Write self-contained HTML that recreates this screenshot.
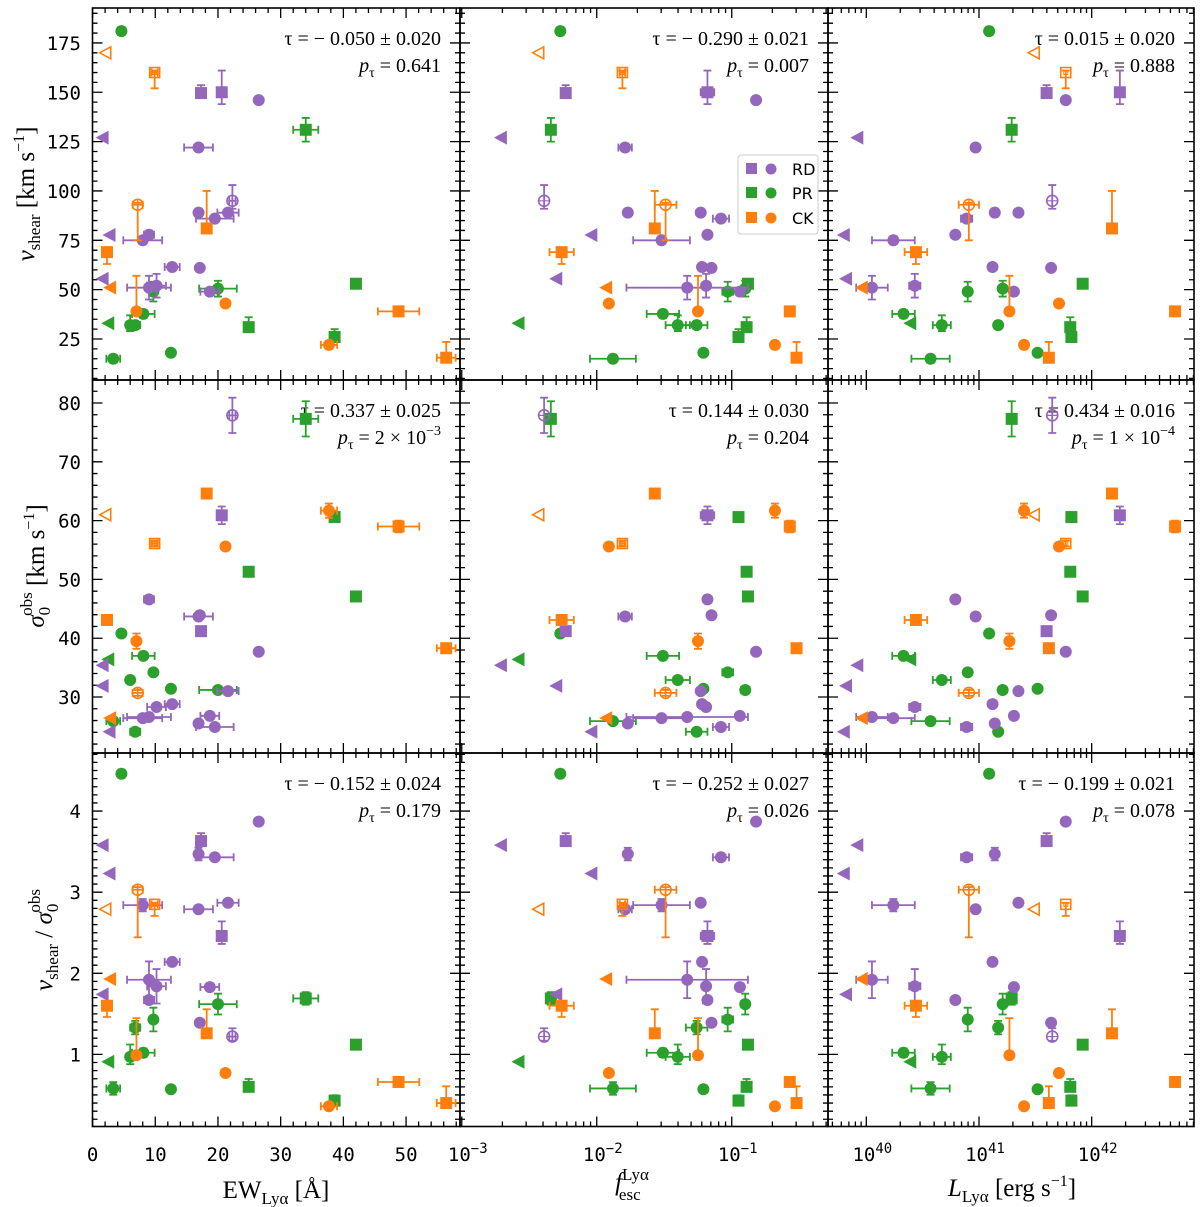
<!DOCTYPE html>
<html><head><meta charset="utf-8"><style>
html,body{margin:0;padding:0;background:#fff;}
svg{display:block;}
.tl{font-family:"DejaVu Sans Mono","Liberation Mono",monospace;font-size:19px;fill:#000;}
.mt{font-family:"Liberation Serif","DejaVu Serif",serif;fill:#000;}
.lg{font-family:"DejaVu Sans","Liberation Sans",sans-serif;font-size:16px;fill:#000;}
</style></head><body>
<svg id="fig" width="1200" height="1207" viewBox="0 0 1200 1207" xmlns="http://www.w3.org/2000/svg">
<g id="axes"></g>
<g id="marks"></g>
<g id="labels">
  <text class="mt" x="276" y="1198" text-anchor="middle" font-size="25">EW<tspan font-size="17" dy="6">Lyα</tspan><tspan dy="-6"> [Å]</tspan></text>
  <text class="mt" x="632" y="1190" text-anchor="middle" font-size="25"><tspan font-style="italic">f</tspan><tspan font-size="17" dy="-10">Lyα</tspan><tspan font-size="17" dx="-30" dy="20">esc</tspan></text>
  <text class="mt" x="1012" y="1196" text-anchor="middle" font-size="25"><tspan font-style="italic">L</tspan><tspan font-size="17" dy="6">Lyα</tspan><tspan dy="-6"> [erg s</tspan><tspan font-size="16" dy="-10">−1</tspan><tspan dy="10">]</tspan></text>
  <text class="mt" transform="translate(34,194) rotate(-90)" text-anchor="middle" font-size="25"><tspan font-style="italic">v</tspan><tspan font-size="17" dy="6">shear</tspan><tspan dy="-6"> [km s</tspan><tspan font-size="16" dy="-10">−1</tspan><tspan dy="10">]</tspan></text>
  <text class="mt" transform="translate(44,566) rotate(-90)" text-anchor="middle" font-size="25"><tspan font-style="italic">σ</tspan><tspan font-size="17" dy="6">0</tspan><tspan font-size="17" dx="-9" dy="-18">obs</tspan><tspan dy="12"> [km s</tspan><tspan font-size="16" dy="-10">−1</tspan><tspan dy="10">]</tspan></text>
  <text class="mt" transform="translate(52,940) rotate(-90)" text-anchor="middle" font-size="25"><tspan font-style="italic">v</tspan><tspan font-size="17" dy="6">shear</tspan><tspan dy="-6"> / </tspan><tspan font-style="italic">σ</tspan><tspan font-size="17" dy="6">0</tspan><tspan font-size="17" dx="-9" dy="-18">obs</tspan></text>
</g>
<g id="legend">
  <rect x="738" y="155" width="80" height="79" rx="3" fill="#fff" fill-opacity="0.85" stroke="#ccc" stroke-width="1"/>
  <g><rect x="746" y="163" width="11" height="11" fill="#9467bd"/><circle cx="771" cy="169" r="5.5" fill="#9467bd"/><text class="lg" x="792" y="175">RD</text></g>
  <g><rect x="746" y="187" width="11" height="11" fill="#2ca02c"/><circle cx="771" cy="193" r="5.5" fill="#2ca02c"/><text class="lg" x="792" y="199">PR</text></g>
  <g><rect x="746" y="212" width="11" height="11" fill="#ff7f0e"/><circle cx="771" cy="218" r="5.5" fill="#ff7f0e"/><text class="lg" x="792" y="224">CK</text></g>
</g>
</svg>
<script>
// ---- data (one entry per galaxy) ----
const groups = ["PR","PR","PR","PR","PR","PR","PR","PR","PR","PR","PR","PR","PR",
 "RD","RD","RD","RD","RD","RD","RD","RD","RD","RD","RD","RD","RD","RD","RD","RD","RD","RD",
 "CK","CK","CK","CK","CK","CK","CK","CK","CK","CK","CK"];
const shapes = ["c","s","s","c","c","c","c","c","t","c","c","s","s",
 "s","s","c","t","c","oc","c","c","c","t","c","c","c","c","t","c","c","c",
 "ot","os","oc","s","s","t","c","c","s","c","s"];
const ewValues = [4.6,34.0,42.0,20.0,9.7,8.1,6.0,6.8,2.5,3.3,12.5,24.9,38.6,
 17.3,20.6,26.5,1.6,16.9,22.3,16.9,21.6,19.5,2.7,9.0,8.0,12.7,17.1,1.6,9.0,10.2,18.7,
 2.1,9.9,7.2,18.2,2.3,2.8,7.0,21.2,48.8,37.7,56.4];
const logFesc = [-2.27,-2.34,-0.88,-0.90,-1.03,-1.51,-1.40,-1.26,-2.58,-1.88,-1.21,-0.89,-0.95,
 -2.23,-1.18,-0.82,-2.71,-1.79,-2.39,-1.77,-1.23,-1.08,-2.04,-1.18,-1.52,-1.22,-1.15,-2.30,-1.33,-1.19,-0.94,
 -2.43,-1.81,-1.49,-1.57,-2.26,-1.93,-1.25,-1.91,-0.57,-0.68,-0.52];
const logLum = [41.09,41.29,41.92,41.21,40.90,40.33,40.67,41.17,40.39,40.57,41.52,41.81,41.82,
 41.60,42.25,41.77,39.92,40.97,41.65,41.14,41.35,40.89,39.80,40.79,40.24,41.12,41.64,39.82,40.05,40.43,41.31,
 41.49,41.77,40.91,42.18,40.44,39.96,41.27,41.71,42.74,41.40,41.62];
const vShear = [181,131,53,50.5,49,37.7,32,32,33,15,18,31,26,
 149.6,150,146,127,122,95,89,89,86,77.7,77.8,75,61.5,61,55.5,51,52,49,
 170,160,93,81,69,51,39,43,39,22,15.5];
const sigma0 = [40.8,77.3,47.1,31.2,34.2,37.0,32.9,24.1,36.4,25.9,31.4,51.3,60.6,
 41.2,60.9,37.7,35.4,43.7,77.9,25.5,31.0,24.9,24.1,46.6,26.4,28.8,43.9,31.9,26.6,28.3,26.8,
 61.0,56.1,30.7,64.6,43.1,26.4,39.5,55.6,59.0,61.7,38.3];
const ratio = [4.46,1.69,1.12,1.62,1.43,1.02,0.97,1.33,0.91,0.58,0.57,0.60,0.43,
 3.63,2.46,3.87,3.58,2.79,1.22,3.47,2.87,3.43,3.23,1.67,2.84,2.14,1.39,1.74,1.92,1.84,1.83,
 2.79,2.85,3.03,1.26,1.60,1.93,0.99,0.77,0.66,0.36,0.40];
const vErrLo = [2,6,0,4,5,2,3,2,0,2,0,2,2, 2,6,1,0,1,4,2,1,1,0,1,2,1,0,0,6,6,1, 0,8,18,1,6,0,1,0,1,2,1];
const vErrHi = [2,6,0,4,5,2,5,2,0,2,0,5,4, 4,11,1,0,1,8,2,1,1,0,1,2,1,0,0,6,6,1, 0,1,1,19,1,0,18,0,1,2,8];
const sErr = [0.5,3,0.5,0.5,0.5,0.5,0.5,0.5,0,0.5,0.5,0.5,0.5, 0.5,1.5,0.5,0,0.5,3,0.5,0.5,0.5,0,0.5,0.5,0.5,0.5,0,0.5,0.5,0.5, 0,0.5,0.5,0.8,0.5,0,1.3,0.5,1,1.2,0.5];
const ewErr = [0,2,0,3,0.5,1.8,0,0.8,0,1.1,0,0,0.5, 0.8,0.5,0.5,0,2.3,0.5,0.5,1.7,3,0,0.8,3.1,1.2,0,0,3.5,1.5,1.5, 0,0.5,0.8,0.5,0.5,0,0.5,0,3.3,1.3,1.5];
const fErr = [0,0.03,0,0.03,0.04,0.12,0.09,0.08,0,0.17,0,0,0, 0.02,0.05,0,0,0.05,0,0,0,0.06,0,0,0.21,0,0,0,0.45,0,0, 0,0.02,0.08,0,0.09,0,0,0,0,0,0];
const lErr = [0,0,0,0,0.03,0.1,0.08,0,0,0.17,0,0,0, 0,0,0,0,0,0,0,0,0.05,0,0,0.19,0,0,0,0.14,0.05,0, 0,0,0.09,0,0.1,0,0,0,0,0,0];
// ---- axes / annotations ----
const tauText = [["τ = − 0.050 ± 0.020","τ = − 0.290 ± 0.021","τ = 0.015 ± 0.020"],
 ["τ = 0.337 ± 0.025","τ = 0.144 ± 0.030","τ = 0.434 ± 0.016"],
 ["τ = − 0.152 ± 0.024","τ = − 0.252 ± 0.027","τ = − 0.199 ± 0.021"]];
const pText = [["0.641","0.007","0.888"],["2 × 10|−3","0.204","1 × 10|−4"],["0.179","0.026","0.078"]];
const ewTicks = [0,10,20,30,40,50];
const vTicks = [25,50,75,100,125,150,175];
const sTicks = [30,40,50,60,70,80];
const rTicks = [1,2,3,4];
const fTickExp = [-3,-2,-1];
const lTickExp = [40,41,42];

const colX = [[92.5,460],[460,828],[828,1194]];
const rowY = [[8,380],[380,753],[753,1126.5]];
const xDom = [[-0.01,58.6],[-3.013,-0.287],[39.66,42.908]];
const yDom = [[192.7,4.22],[83.91,20.48],[4.716,0.111]];
const colors = {RD:"#9467bd",PR:"#2ca02c",CK:"#ff7f0e"};
const NS="http://www.w3.org/2000/svg";
function X(c,v){const d=xDom[c],p=colX[c];return p[0]+(v-d[0])/(d[1]-d[0])*(p[1]-p[0]);}
function Y(r,v){const d=yDom[r],p=rowY[r];return p[0]+(v-d[0])/(d[1]-d[0])*(p[1]-p[0]);}
function mk(tag,at,parent){const e=document.createElementNS(NS,tag);for(const k in at)e.setAttribute(k,at[k]);parent.appendChild(e);return e;}
const axG=document.getElementById('axes'), mG=document.getElementById('marks'), lab=document.getElementById('labels');

function xTickList(c){ // [value, major]
  const out=[];
  if(c===0){for(let v=0;v<=58;v+=2)out.push([v,v%10===0]);}
  else{const lo=Math.floor(xDom[c][0]),hi=Math.ceil(xDom[c][1]);
    for(let e=lo;e<hi;e++)for(let m=1;m<10;m++){const v=e+Math.log10(m);if(v>=xDom[c][0]&&v<=xDom[c][1])out.push([v,m===1]);}}
  return out;}
function yTickList(r){const out=[];
  if(r===0){for(let v=5;v<=190;v+=5)out.push([v,v%25===0]);}
  else if(r===1){for(let v=22;v<=82;v+=2)out.push([v,v%10===0]);}
  else{for(let k=2;k<=47;k++){const v=k/10;out.push([v,k%10===0]);}}
  return out;}

for(let r=0;r<3;r++)for(let c=0;c<3;c++){
  const g=mk('g',{},axG);
  
  
  const x0=colX[c][0],x1=colX[c][1],y0=rowY[r][0],y1=rowY[r][1];
  mk('rect',{x:x0,y:y0,width:x1-x0,height:y1-y0,fill:'none',stroke:'#000','stroke-width':1.6},g);
  let d='';
  xTickList(c).forEach(([v,maj])=>{const px=X(c,v),L=maj?10:5;d+=`M${px},${y1}v${-L}M${px},${y0}v${L}`;});
  yTickList(r).forEach(([v,maj])=>{const py=Y(r,v),L=maj?10:5;d+=`M${x0},${py}h${L}M${x1},${py}h${-L}`;});
  mk('path',{d:d,stroke:'#000','stroke-width':1.3,fill:'none'},g);
  // annotations
  const t=mk('text',{class:'mt',x:x1-19,y:y0+37,'text-anchor':'end','font-size':20},g);
  
  
  t.textContent=tauText[r][c];
  const p=mk('text',{class:'mt',x:x1-19,y:y0+64,'text-anchor':'end','font-size':20},g);
  
  
  const parts=pText[r][c].split('|');
  p.innerHTML='<tspan font-style="italic">p</tspan><tspan font-size="14" dy="5">τ</tspan><tspan dy="-5"> = '+parts[0]+'</tspan>'+(parts[1]?'<tspan font-size="14" dy="-9">'+parts[1]+'</tspan>':'');
}
// tick labels
function tl(x,y,txt,anchor,name,sup){const t=mk('text',{class:'tl',x:x,y:y,'text-anchor':anchor},lab);
  
  
  t.innerHTML=txt+(sup?'<tspan font-size="14" dy="-8">'+sup+'</tspan>':'');}
ewTicks.forEach(v=>tl(X(0,v),1161,String(v),'middle','x-tick-label'));
fTickExp.forEach(e=>tl(X(1,e)+6,1161,'10','middle','x-tick-label',String(e).replace('-','−')));
lTickExp.forEach(e=>tl(X(2,e)+6,1161,'10','middle','x-tick-label',String(e)));
vTicks.forEach(v=>tl(81,Y(0,v)+7,String(v),'end','y-tick-label'));
sTicks.forEach(v=>tl(81,Y(1,v)+7,String(v),'end','y-tick-label'));
rTicks.forEach(v=>tl(81,Y(2,v)+7,String(v),'end','y-tick-label'));

// marks
const xs=[ewValues,logFesc,logLum], xe=[ewErr,fErr,lErr];
const ys=[vShear,sigma0,ratio];
function yErr(r,i){
  if(r===0)return [vErrLo[i],vErrHi[i]];
  if(r===1)return [sErr[i],sErr[i]];
  return [ratio[i]*vErrLo[i]/vShear[i],ratio[i]*vErrHi[i]/vShear[i]];}
for(let r=0;r<3;r++)for(let c=0;c<3;c++){
  for(let i=0;i<groups.length;i++){
    const col=colors[groups[i]];
    const px=X(c,xs[c][i]),py=Y(r,ys[r][i]);
    const g=mk('g',{},mG);
    
    
    let d='';
    const ex=xe[c][i];
    if(ex>0){const a=X(c,xs[c][i]-ex),b=X(c,xs[c][i]+ex);d+=`M${a},${py}H${b}M${a},${py-4}v8M${b},${py-4}v8`;}
    const [lo,hi]=yErr(r,i);
    if(lo>0||hi>0){const a=Y(r,ys[r][i]-lo),b=Y(r,ys[r][i]+hi);d+=`M${px},${a}V${b}`;if(hi>0.01)d+=`M${px-4},${b}h8`;if(lo>0.01)d+=`M${px-4},${a}h8`;}
    if(d)mk('path',{d:d,stroke:col,'stroke-width':1.8,fill:'none'},g);
    const s=shapes[i];
    if(s==='c')mk('circle',{cx:px,cy:py,r:6,fill:col},g);
    else if(s==='s')mk('rect',{x:px-6,y:py-6,width:12,height:12,fill:col},g);
    else if(s==='t')mk('path',{d:`M${px-7},${py}L${px+6},${py-7}L${px+6},${py+7}Z`,fill:col},g);
    else if(s==='ot')mk('path',{d:`M${px-6},${py}L${px+5},${py-6}L${px+5},${py+6}Z`,fill:'none',stroke:col,'stroke-width':1.6},g);
    else if(s==='os'){mk('rect',{x:px-5,y:py-5,width:10,height:10,fill:'none',stroke:col,'stroke-width':1.6},g);mk('path',{d:`M${px-2},${py-2}h4v4h-4z`,fill:'none',stroke:col,'stroke-width':1},g);}
    else if(s==='oc'){mk('circle',{cx:px,cy:py,r:5.5,fill:'none',stroke:col,'stroke-width':1.6},g);mk('path',{d:`M${px-5.5},${py}h11M${px},${py-5.5}v11`,stroke:col,'stroke-width':1.2},g);}
  }
}
</script>
</body></html>
